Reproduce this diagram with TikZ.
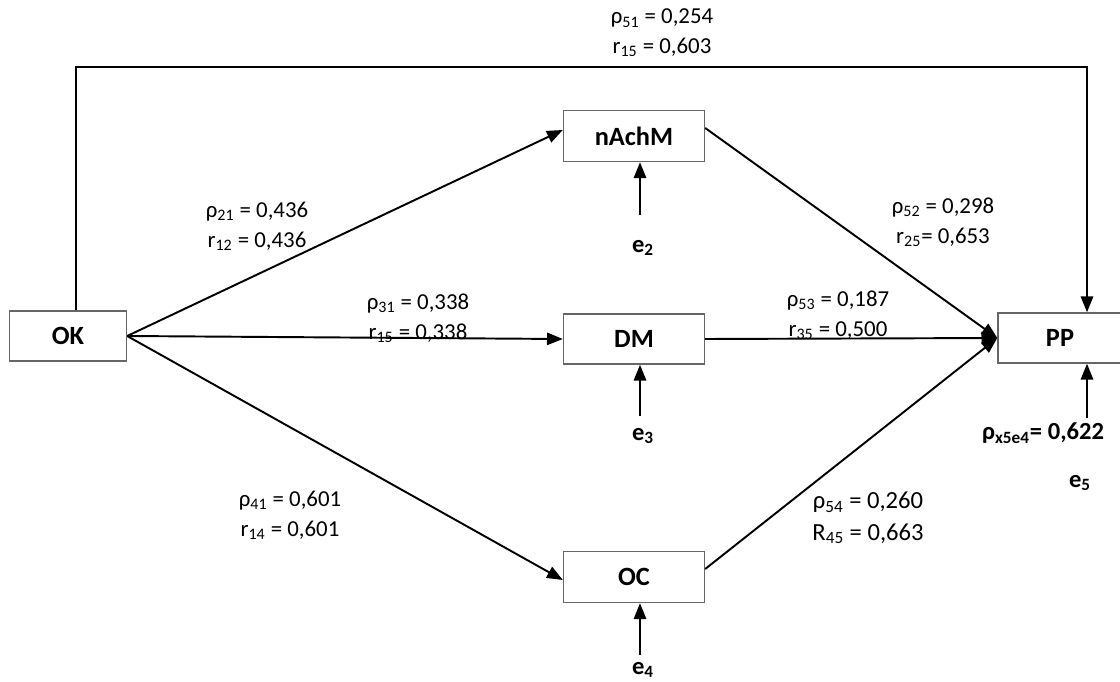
\documentclass[tikz,border=0pt]{standalone}
\usepackage{fontspec}
\setmainfont{Carlito}
\usetikzlibrary{arrows.meta,positioning}

\begin{document}
\begin{tikzpicture}[x=0.02cm, y=-0.02cm, ->, >={Triangle[length=9pt,width=7pt]}, line width=1.1pt]
    \tikzstyle{var}=[draw=black!60, line width=0.8pt, minimum width=2.82cm, minimum height=1.02cm, font=\fontsize{15}{17}\selectfont\bfseries]
    \tikzstyle{coef}=[font=\fontsize{13}{17}\selectfont, align=center]
    \tikzstyle{err}=[font=\fontsize{14}{16}\selectfont\bfseries]

    \useasboundingbox (0,0) rectangle (1120,682);

    \node[var, minimum width=2.34cm, minimum height=1cm] (OK) at (68,336) {OK};
    \node[var] (nAchM) at (634,136) {nAchM};
    \node[var, minimum height=1cm] (DM) at (634,339) {DM};
    \node[var] (OC) at (634,577) {OC};
    \node[var, minimum width=2.48cm, minimum height=1cm] (PP) at (1060,338) {PP};

    % coefficients
    \node[coef] (c51) at (662,33) {ρ\textsubscript{51} = 0,254\\r\textsubscript{15} = 0,603};
    \node[coef] (c21) at (257,226) {ρ\textsubscript{21} = 0,436\\r\textsubscript{12} = 0,436};
    \node[coef] (c31) at (418,318) {ρ\textsubscript{31} = 0,338\\r\textsubscript{15} = 0,338};
    \node[coef] (c53) at (838,315) {ρ\textsubscript{53} = 0,187\\r\textsubscript{35} = 0,500};
    \node[coef] (c52) at (943,222) {ρ\textsubscript{52} = 0,298\\r\textsubscript{25}= 0,653};
    \node[coef] (c41) at (290,515) {ρ\textsubscript{41} = 0,601\\r\textsubscript{14} = 0,601};
    \node[coef, font=\fontsize{14}{18}\selectfont] (c54) at (868,518) {ρ\textsubscript{54} = 0,260\\R\textsubscript{45} = 0,663};
    \node[err] (c5e) at (1043,433) {ρ\textsubscript{x5e4}= 0,622};

    % error terms
    \node[err] (e2) at (643,248) {e\textsubscript{2}};
    \node[err] (e3) at (643,436) {e\textsubscript{3}};
    \node[err] (e4) at (643,670) {e\textsubscript{4}};
    \node[err] (e5) at (1080,483) {e\textsubscript{5}};
    \coordinate (e2tail) at (640,215);
    \coordinate (e3tail) at (640,416);
    \coordinate (e4tail) at (640,655);
    \coordinate (e5tail) at (1087,418);
    \coordinate (topbend) at (1087,67);

    \path
    (OK.east)    edge [] ([yshift=0.12cm]nAchM.west)
    (OK.east)    edge [] (DM.west)
    (OK.east)    edge [] ([yshift=-0.06cm]OC.west)
    ([yshift=0.16cm]nAchM.east) edge [] (PP.west)
    (DM.east)    edge [] (PP.west)
    ([yshift=0.16cm]OC.east)    edge [] (PP.west);

    \draw ([xshift=0.16cm]OK.north) |- (topbend) -- (topbend |- PP.north);
    \draw (e2tail) -- (e2tail |- nAchM.south);
    \draw (e3tail) -- (e3tail |- DM.south);
    \draw (e4tail) -- (e4tail |- OC.south);
    \draw (e5tail) -- (e5tail |- PP.south);

\end{tikzpicture}
\end{document}
